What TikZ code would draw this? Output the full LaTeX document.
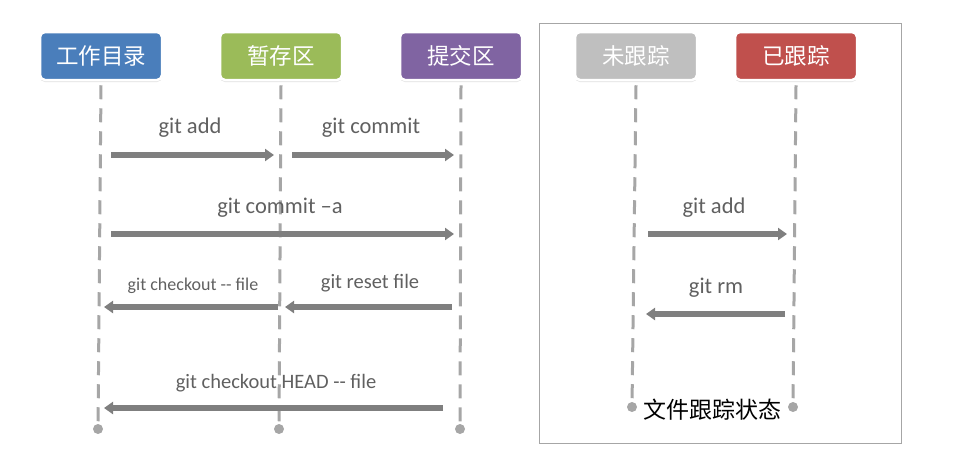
\documentclass[tikz,border=0pt]{standalone}
\usepackage{fontspec}
\setmainfont{Carlito}
\newfontfamily\cjk{Noto Sans CJK SC}
\usetikzlibrary{arrows.meta,shadows}
\definecolor{cblue}{HTML}{4A7EBB}
\definecolor{cgreen}{HTML}{9BBB59}
\definecolor{cpurple}{HTML}{8064A2}
\definecolor{cgrayb}{HTML}{BFBFBF}
\definecolor{cred}{HTML}{C0504D}
\definecolor{lifegray}{HTML}{A6A6A6}
\definecolor{arrgray}{HTML}{7F7F7F}
\definecolor{labgray}{HTML}{606060}
\begin{document}
\begin{tikzpicture}[x=1pt,y=-1pt,
  hdr/.style={rounded corners=5pt, draw=white, line width=2.5pt, minimum width=122pt, minimum height=48pt,
    text=white, font=\cjk\fontsize{22.5}{26}\selectfont, inner sep=0pt,
    drop shadow={opacity=0.25, shadow xshift=0pt, shadow yshift=-2pt}},
  life/.style={draw=lifegray, line width=3pt, dash pattern=on 14pt off 9pt},
  enddot/.style={circle, fill=lifegray, minimum size=10pt, inner sep=0pt},
  act/.style={draw=arrgray, line width=5.5pt, -{Triangle[length=9pt,width=12pt]}},
  lab/.style={text=labgray, font=\fontsize{22.5}{26}\selectfont, inner sep=0pt},
  mlab/.style={text=labgray, font=\fontsize{20.5}{24}\selectfont, inner sep=0pt},
  slab/.style={text=labgray, font=\fontsize{18}{21}\selectfont, inner sep=0pt}]
\useasboundingbox (0,0) rectangle (965,456);
% frame
\node[draw=lifegray, line width=1pt, minimum width=362pt, minimum height=420pt, inner sep=0pt] (frame) at (720,233) {};
% headers
\node[hdr, fill=cblue] (wd) at (101,56) {工作目录};
\node[hdr, fill=cgreen] (st) at (281,56) {暂存区};
\node[hdr, fill=cpurple] (cm) at (461,56) {提交区};
\node[hdr, fill=cgrayb] (ut) at (636,56) {未跟踪};
\node[hdr, fill=cred] (tr) at (796,56) {已跟踪};
% end dots
\node[enddot] (wdE) at (98,429) {};
\node[enddot] (stE) at (279,429) {};
\node[enddot] (cmE) at (460,429) {};
\node[enddot] (utE) at (632,407) {};
\node[enddot] (trE) at (793,407) {};
% lifelines
\draw[life] ([yshift=-4pt]wd.south) -- (wdE);
\draw[life] ([yshift=-4pt]st.south) -- (stE);
\draw[life] ([yshift=-4pt]cm.south) -- (cmE);
\draw[life] ([yshift=-4pt]ut.south) -- (utE);
\draw[life] ([yshift=-4pt]tr.south) -- (trE);
% arrow endpoints
\coordinate (a1) at (111,155); \coordinate (a2) at (274,155);
\coordinate (b1) at (292,155); \coordinate (b2) at (454,155);
\coordinate (c1) at (111,234); \coordinate (c2) at (454,234);
\coordinate (d1) at (278,307); \coordinate (d2) at (104,307);
\coordinate (e1) at (452,307); \coordinate (e2) at (285,307);
\coordinate (f1) at (443,408); \coordinate (f2) at (104,408);
\coordinate (g1) at (648,234); \coordinate (g2) at (787,234);
\coordinate (h1) at (785,314); \coordinate (h2) at (646,314);
% arrows
\draw[act] (a1) -- (a2);
\draw[act] (b1) -- (b2);
\draw[act] (c1) -- (c2);
\draw[act] (d1) -- (d2);
\draw[act] (e1) -- (e2);
\draw[act] (f1) -- (f2);
\draw[act] (g1) -- (g2);
\draw[act] (h1) -- (h2);
% labels
\node[lab] (la) at (190,128) {git add};
\node[lab] (lb) at (371,128) {git commit};
\node[lab] (lc) at (280,208) {git commit –a};
\node[slab] (ld) at (193,286) {git checkout -{}- file};
\node[mlab] (le) at (370,283) {git reset file};
\node[mlab] (lf) at (276,383) {git checkout HEAD -{}- file};
\node[lab] (lg) at (714,208) {git add};
\node[lab] (lh) at (716,288) {git rm};
\node[font=\cjk\fontsize{23}{25}\selectfont, text=black, fill=white, inner sep=1pt] (lt) at (712,410) {文件跟踪状态};
\end{tikzpicture}
\end{document}
